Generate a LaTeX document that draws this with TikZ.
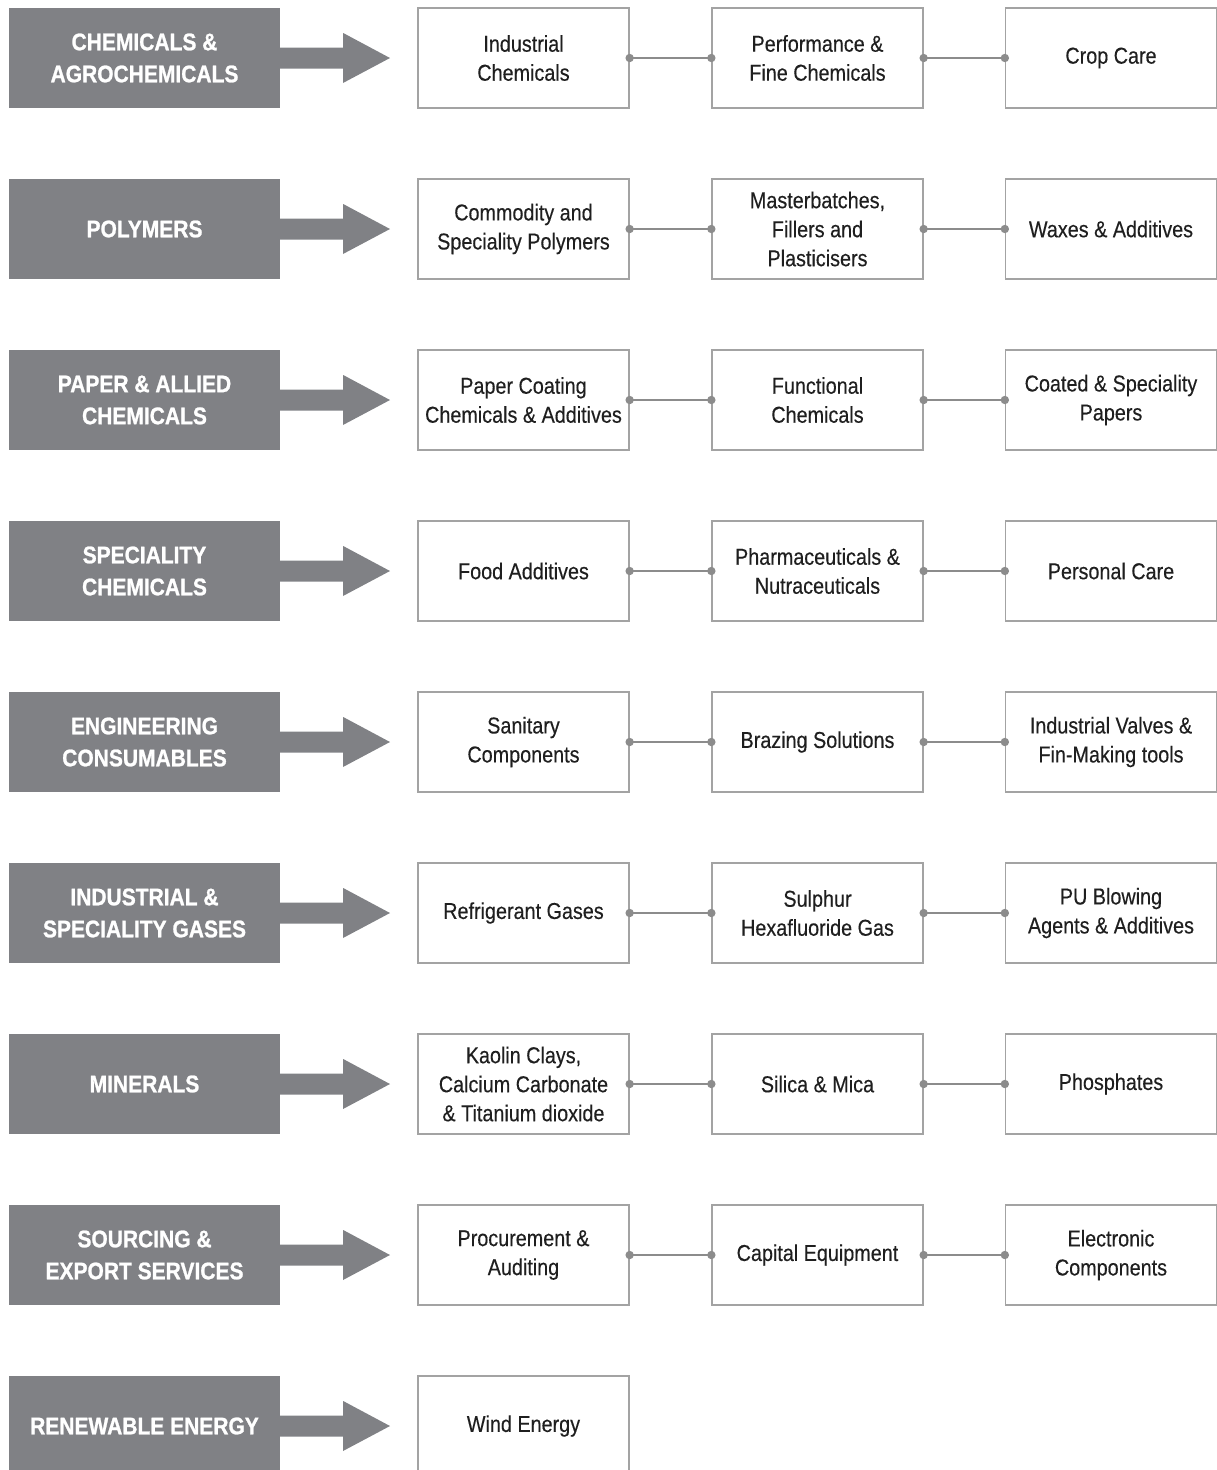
\documentclass[tikz,border=0pt]{standalone}
\usepackage{fontspec}
\setmainfont[FakeStretch=0.86,FakeBold=0.3,BoldFeatures={FakeStretch=0.875,FakeBold=1}]{Liberation Sans}
\definecolor{catgray}{HTML}{808185}
\definecolor{boxline}{HTML}{A3A3A3}
\definecolor{linkgray}{HTML}{8C8C8C}
\definecolor{txt}{HTML}{1F1F1F}
\tikzset{
  cat/.style={fill=catgray,draw=none,minimum width=271pt,minimum height=100pt,
    text=white,font=\fontsize{24}{32}\selectfont\bfseries,align=center,inner sep=0pt},
  item/.style={draw=boxline,line width=1.3pt,fill=white,minimum width=211pt,minimum height=100pt,
    text=txt,font=\fontsize{23}{29}\selectfont,align=center,inner sep=0pt},
  link/.style={draw=linkgray,line width=1.4pt},
  dot/.style={fill=linkgray,draw=none},
  bigarrow/.style={fill=catgray,draw=none}
}
\begin{document}
\begin{tikzpicture}[x=1pt,y=-1pt]
\useasboundingbox (0,0) rectangle (1217,1470);
\def\rowlist{%
0/{CHEMICALS \&\\AGROCHEMICALS}/{Industrial\\Chemicals}/{Performance \&\\Fine Chemicals}/{Crop Care},%
1/{POLYMERS}/{Commodity and\\Speciality Polymers}/{Masterbatches,\\Fillers and\\Plasticisers}/{Waxes \& Additives},%
2/{PAPER \& ALLIED\\CHEMICALS}/{Paper Coating\\Chemicals \& Additives}/{Functional\\Chemicals}/{Coated \& Speciality\\Papers},%
3/{SPECIALITY\\CHEMICALS}/{Food Additives}/{Pharmaceuticals \&\\Nutraceuticals}/{Personal Care},%
4/{ENGINEERING\\CONSUMABLES}/{Sanitary\\Components}/{Brazing Solutions}/{Industrial Valves \&\\Fin-Making tools},%
5/{INDUSTRIAL \&\\SPECIALITY GASES}/{Refrigerant Gases}/{Sulphur\\Hexafluoride Gas}/{PU Blowing\\Agents \& Additives},%
6/{MINERALS}/{Kaolin Clays,\\Calcium Carbonate\\\& Titanium dioxide}/{Silica \& Mica}/{Phosphates},%
7/{SOURCING \&\\EXPORT SERVICES}/{Procurement \&\\Auditing}/{Capital Equipment}/{Electronic\\Components}}
\foreach \r/\c/\a/\b/\d in \rowlist {
  \pgfmathsetmacro{\yy}{58+171*\r}
  \node[cat] (c\r) at (144.5,\yy) {\c};
  \node[item] (a\r) at (523.5,\yy) {\a};
  \node[item] (b\r) at (817.5,\yy) {\b};
  \node[item] (d\r) at (1111,\yy) {\d};
  \coordinate (t\r) at (390,\yy);
  \fill[bigarrow] (c\r.east) ++(0,-10.5) -- ++(63,0) -- ++(0,-14.5) -- (t\r)
     -- ++(-47,25) -- ++(0,-14.5) -- ++(-63,0) -- cycle;
  \draw[link] (a\r.east) -- (b\r.west);
  \draw[link] (b\r.east) -- (d\r.west);
  \path[dot] (a\r.east) circle[radius=4.2] (b\r.west) circle[radius=4.2]
             (b\r.east) circle[radius=4.2] (d\r.west) circle[radius=4.2];
}
\node[cat] (c8) at (144.5,1426) {RENEWABLE ENERGY};
\node[item] (a8) at (523.5,1426) {Wind Energy};
\coordinate (t8) at (390,1426);
\fill[bigarrow] (c8.east) ++(0,-10.5) -- ++(63,0) -- ++(0,-14.5) -- (t8)
   -- ++(-47,25) -- ++(0,-14.5) -- ++(-63,0) -- cycle;
\end{tikzpicture}
\end{document}
